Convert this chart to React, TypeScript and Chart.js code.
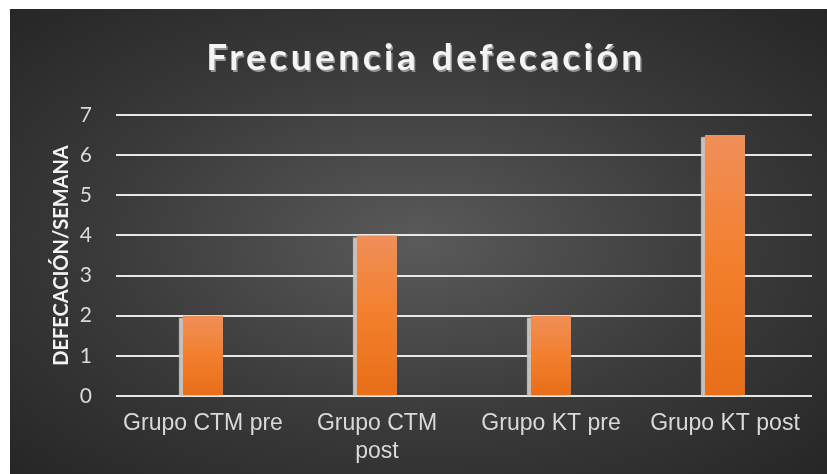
import React, { useEffect, useRef } from "react";
import { Chart, registerables } from "chart.js";

Chart.register(...registerables);

const categories: (string | string[])[] = ["Grupo CTM pre", ["Grupo CTM", "post"], "Grupo KT pre", "Grupo KT post"];
const values = [2, 4, 2, 6.5];
const yMin = 0;
const yMax = 7;
const yStep = 1;
const chartTitle = "Frecuencia defecación";
const yAxisTitle = "DEFECACIÓN/SEMANA";

const titlePlugin = {
  id: "customTitle",
  afterDraw(chart: any) {
    const ctx = chart.ctx as CanvasRenderingContext2D;
    ctx.save();
    ctx.font = "bold 37px Lato";
    (ctx as any).letterSpacing = "3.5px";
    ctx.textAlign = "center";
    ctx.textBaseline = "middle";
    ctx.shadowColor = "rgba(150,150,150,1)";
    ctx.shadowOffsetX = 1.5;
    ctx.shadowOffsetY = 2.5;
    ctx.shadowBlur = 0.5;
    ctx.fillStyle = "#f4f4f4";
    ctx.fillText(chartTitle, 416, 49);
    ctx.restore();
  },
};

const barShadowPlugin = {
  id: "barShadow",
  beforeDatasetsDraw(chart: any) {
    const ctx = chart.ctx as CanvasRenderingContext2D;
    ctx.save();
    ctx.shadowColor = "rgba(200,200,200,0.95)";
    ctx.shadowOffsetX = -4;
    ctx.shadowOffsetY = 2;
    ctx.shadowBlur = 1;
  },
  afterDatasetsDraw(chart: any) {
    chart.ctx.restore();
  },
};

export default function App() {
  const ref = useRef<HTMLCanvasElement>(null);
  useEffect(() => {
    if (!ref.current) return;
    const chart = new Chart(ref.current, {
      type: "bar",
      data: {
        labels: categories as any,
        datasets: [
          {
            data: values,
            backgroundColor: (c: any) => {
              const ch = c.chart;
              const ys = ch.scales && ch.scales.y;
              if (!ch.chartArea || !ys || c.raw === undefined) return "#f07e2e";
              const top = ys.getPixelForValue(c.raw);
              const bottom = ys.getPixelForValue(0);
              const g = ch.ctx.createLinearGradient(0, top, 0, bottom);
              g.addColorStop(0, "#f08f59");
              g.addColorStop(0.5, "#f37f2c");
              g.addColorStop(1, "#e86e18");
              return g;
            },
            borderWidth: 0,
            barPercentage: 0.23,
            categoryPercentage: 1,
          },
        ],
      },
      options: {
        animation: false,
        responsive: true,
        maintainAspectRatio: false,
        layout: { padding: { top: 106, left: 40, right: 15, bottom: 0 } },
        plugins: {
          legend: { display: false },
          tooltip: { enabled: false },
          title: { display: false },
        },
        scales: {
          x: {
            grid: { display: false, drawTicks: false },
            border: { display: false },
            ticks: {
              color: "#d9d9d9",
              font: { family: "'Liberation Sans', Arial", size: 23, lineHeight: 1.2 },
              padding: 14,
              maxRotation: 0,
              autoSkip: false,
            },
            afterFit: (s: any) => {
              s.height = 78;
            },
          },
          y: {
            min: yMin,
            max: yMax,
            ticks: {
              stepSize: yStep,
              color: "#d9d9d9",
              font: { family: "Lato", size: 21 },
              padding: 24,
            },
            grid: {
              color: "rgba(240,240,240,0.95)",
              lineWidth: 2,
              drawTicks: false,
            },
            border: { display: false },
            title: {
              display: true,
              text: yAxisTitle,
              color: "#f2f2f2",
              font: { family: "Lato", size: 20, weight: "bold" },
              padding: { top: 0, bottom: 9 },
            },
            afterFit: (s: any) => {
              s.width = 66;
            },
          },
        },
      },
      plugins: [barShadowPlugin, titlePlugin],
    });
    return () => chart.destroy();
  }, []);

  return (
    <div
      style={{
        position: "absolute",
        left: 10,
        top: 9,
        width: 817,
        height: 465,
        background: "radial-gradient(ellipse farthest-corner at 50% 50%, #5a5a5a 0%, #3a3a3a 55%, #262626 100%)",
      }}
    >
      <canvas ref={ref} />
    </div>
  );
}
